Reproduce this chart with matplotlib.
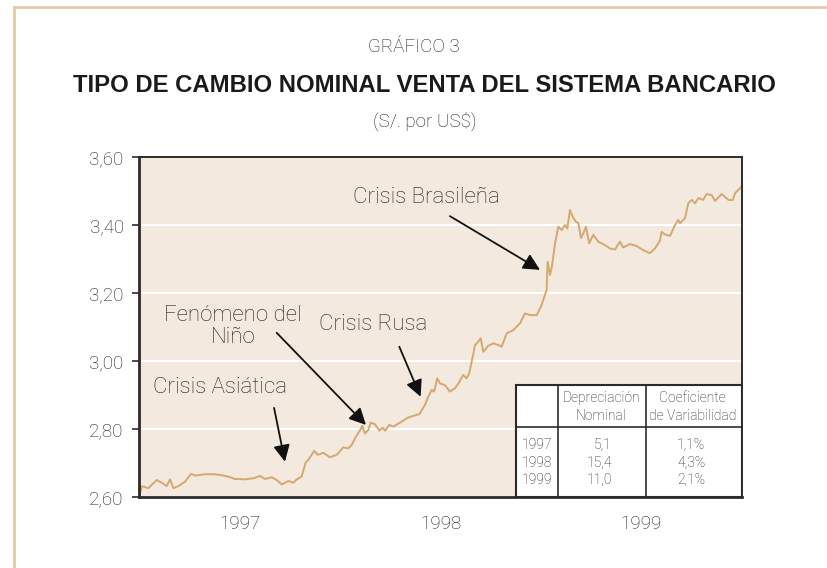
#!/usr/bin/env python3
"""Grafico 3: tipo de cambio nominal venta del sistema bancario (1997-1999)."""
import matplotlib
matplotlib.use("Agg")
import matplotlib.pyplot as plt
from matplotlib.lines import Line2D
from matplotlib.patches import Rectangle

# Style constants
BG_AX = "#F4E9DE"
LINE = "#D3A96F"
FRAME = "#E3CBA8"
DARK = "#2B2B2B"
TXT = "#1E1E1E"
FONT = ["Roboto", "DejaVu Sans"]

# Serie (fecha en anos decimales, S/. por US$)
fechas = [
    1997.005, 1997.016, 1997.046, 1997.088, 1997.113, 1997.138, 1997.154, 1997.171,
    1997.196, 1997.229, 1997.259, 1997.279, 1997.328, 1997.370, 1997.403, 1997.444,
    1997.478, 1997.527, 1997.569, 1997.602, 1997.627, 1997.660, 1997.685, 1997.710,
    1997.743, 1997.768, 1997.785, 1997.809, 1997.829, 1997.842, 1997.872, 1997.889,
    1997.917, 1997.950, 1997.984, 1998.016, 1998.041, 1998.058, 1998.075, 1998.100,
    1998.111, 1998.124, 1998.141, 1998.153, 1998.174, 1998.196, 1998.212, 1998.224,
    1998.245, 1998.265, 1998.299, 1998.340, 1998.395, 1998.423, 1998.439, 1998.456,
    1998.468, 1998.484, 1998.498, 1998.522, 1998.547, 1998.572, 1998.589, 1998.613,
    1998.630, 1998.643, 1998.660, 1998.672, 1998.688, 1998.700, 1998.713, 1998.738,
    1998.763, 1998.788, 1998.804, 1998.829, 1998.862, 1998.896, 1998.920, 1998.945,
    1998.979, 1999.003, 1999.028, 1999.033, 1999.045, 1999.054, 1999.070, 1999.086,
    1999.103, 1999.119, 1999.131, 1999.144, 1999.158, 1999.173, 1999.186, 1999.199,
    1999.210, 1999.224, 1999.240, 1999.260, 1999.285, 1999.318, 1999.343, 1999.368,
    1999.393, 1999.409, 1999.443, 1999.476, 1999.509, 1999.542, 1999.567, 1999.592,
    1999.600, 1999.617, 1999.642, 1999.667, 1999.683, 1999.692, 1999.716, 1999.733,
    1999.750, 1999.766, 1999.783, 1999.807, 1999.824, 1999.849, 1999.866, 1999.899,
    1999.932, 1999.954, 1999.965, 1999.998,
]
tipo_cambio = [
    2.611, 2.632, 2.626, 2.650, 2.642, 2.632, 2.652, 2.626,
    2.632, 2.645, 2.668, 2.663, 2.667, 2.667, 2.665, 2.660,
    2.653, 2.652, 2.655, 2.662, 2.653, 2.658, 2.650, 2.637,
    2.647, 2.642, 2.652, 2.660, 2.701, 2.709, 2.736, 2.724,
    2.730, 2.717, 2.724, 2.746, 2.743, 2.753, 2.773, 2.797,
    2.809, 2.787, 2.797, 2.819, 2.814, 2.795, 2.804, 2.795,
    2.812, 2.807, 2.819, 2.834, 2.844, 2.871, 2.895, 2.915,
    2.910, 2.949, 2.934, 2.929, 2.910, 2.920, 2.934, 2.959,
    2.949, 2.964, 3.013, 3.047, 3.057, 3.067, 3.027, 3.045,
    3.052, 3.047, 3.042, 3.081, 3.091, 3.111, 3.140, 3.135,
    3.135, 3.165, 3.209, 3.292, 3.253, 3.277, 3.346, 3.395,
    3.385, 3.400, 3.390, 3.444, 3.424, 3.410, 3.405, 3.361,
    3.375, 3.395, 3.346, 3.371, 3.351, 3.341, 3.331, 3.328,
    3.351, 3.334, 3.344, 3.338, 3.326, 3.317, 3.331, 3.354,
    3.380, 3.372, 3.368, 3.400, 3.415, 3.405, 3.420, 3.464,
    3.474, 3.464, 3.479, 3.474, 3.491, 3.488, 3.471, 3.491,
    3.474, 3.473, 3.493, 3.513,
]

anios = ["1997", "1998", "1999"]
y_ticks = [2.60, 2.80, 3.00, 3.20, 3.40, 3.60]

# Tabla
tabla_anios = ["1997", "1998", "1999"]
depreciacion = ["5,1", "15,4", "11,0"]
variabilidad = ["1,1%", "4,3%", "2,1%"]

fig = plt.figure(figsize=(8.27, 5.68), dpi=100)
fig.patch.set_facecolor("white")

# marco beige de la pagina
fig.add_artist(Line2D([14 / 827, 14 / 827], [0, 1 - 7 / 568], color=FRAME, lw=2))
fig.add_artist(Line2D([14 / 827, 1], [1 - 7 / 568, 1 - 7 / 568], color=FRAME, lw=2))

fig.text(0.5, 1 - 47 / 568, "GRÁFICO 3", ha="center", va="center", fontsize=13.5,
         fontweight="light", color=TXT, family=FONT)
fig.text(0.513, 1 - 85 / 568, "TIPO DE CAMBIO NOMINAL VENTA DEL SISTEMA BANCARIO",
         ha="center", va="center", fontsize=17.2, fontweight="bold", color="#1A1A1A",
         family=["Liberation Sans", "DejaVu Sans"])
fig.text(0.514, 1 - 121 / 568, "(S/. por US$)", ha="center", va="center", fontsize=13.5,
         fontweight="light", color=TXT, family=FONT)

ax = fig.add_axes([139 / 827, 1 - 497 / 568, 603 / 827, 340 / 568])
ax.set_facecolor(BG_AX)
ax.plot(fechas, tipo_cambio, color=LINE, lw=1.4, zorder=3)

ax.set_xlim(1997, 2000)
ax.set_ylim(2.60, 3.60)
ax.set_yticks(y_ticks)
ax.set_yticklabels([f"{v:.2f}".replace(".", ",") for v in y_ticks],
                   fontsize=13.5, color=TXT, family=FONT, fontweight="light")
ax.set_xticks([1997.5, 1998.5, 1999.5])
ax.set_xticklabels(anios, fontsize=13.5, color=TXT, family=FONT, fontweight="light")
ax.tick_params(axis="x", length=0, pad=13)
ax.tick_params(axis="y", length=5, width=1.2, color=DARK, direction="out", pad=6)
ax.yaxis.grid(True, color="white", lw=1.5, zorder=1)
ax.set_axisbelow(True)
for side, sp in ax.spines.items():
    sp.set_color(DARK)
    sp.set_linewidth(2 if side in ("left", "bottom") else 1.4)
    sp.set_zorder(5)

# anotaciones
arrow = dict(arrowstyle="-|>,head_length=1.0,head_width=0.5", color="#111111", lw=1.3,
             shrinkA=0, shrinkB=0)
notas = [
    ("Crisis Asiática", (1997.403, 2.921), (1997.672, 2.862), (1997.726, 2.704)),
    ("Fenómeno del\nNiño", (1997.468, 3.101), (1997.685, 3.083), (1998.129, 2.812)),
    ("Crisis Rusa", (1998.164, 3.106), (1998.295, 3.042), (1998.401, 2.895)),
    ("Crisis Brasileña", (1998.428, 3.482), (1998.547, 3.426), (1998.995, 3.268)),
]
for texto, pos, ini, fin in notas:
    ax.text(pos[0], pos[1], texto, ha="center", va="center", fontsize=16,
            fontweight="light", color=TXT, family=FONT, linespacing=1.1, zorder=6)
    ax.annotate("", xy=fin, xytext=ini, arrowprops=arrow, zorder=6)

# tabla resumen (coordenadas de ejes)
t_left, t_top = 0.625, 0.329
c1, c2 = 0.695, 0.840
h_line = 0.207
ax.add_patch(Rectangle((t_left, 0), 1 - t_left, t_top, transform=ax.transAxes,
                       facecolor="white", edgecolor=DARK, lw=1.5, zorder=7))
for xc in (c1, c2):
    ax.plot([xc, xc], [0, t_top], transform=ax.transAxes, color=DARK, lw=1.2, zorder=8)
ax.plot([t_left, 1], [h_line, h_line], transform=ax.transAxes, color=DARK, lw=1.2, zorder=8)

tkw = dict(transform=ax.transAxes, fontsize=10, color=TXT, family=FONT,
           fontweight="light", va="center", zorder=9)
ax.text(0.766, 0.291, "Depreciación", ha="center", **tkw)
ax.text(0.766, 0.238, "Nominal", ha="center", **tkw)
ax.text(0.918, 0.291, "Coeficiente", ha="center", **tkw)
ax.text(0.918, 0.238, "de Variabilidad", ha="center", **tkw)
filas_y = [0.153, 0.099, 0.050]
for yy, a, d, v in zip(filas_y, tabla_anios, depreciacion, variabilidad):
    ax.text(0.634, yy, a, ha="left", **tkw)
    ax.text(0.784, yy, d, ha="right", **tkw)
    ax.text(0.939, yy, v, ha="right", **tkw)

fig.savefig("out.png", dpi=100, facecolor="white")
